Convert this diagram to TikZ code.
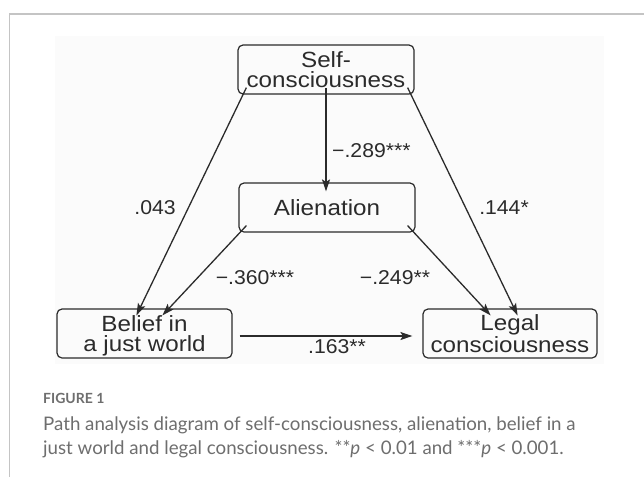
\documentclass[tikz,border=0pt]{standalone}
\usepackage{fontspec}
\setmainfont{Liberation Sans}
\newfontfamily\boxfont[FakeStretch=1.1]{Liberation Sans}
\newfontfamily\labfont[FakeStretch=1.06]{Liberation Sans}
\newfontfamily\capfont{Lato}
\usetikzlibrary{arrows.meta}
\definecolor{ink}{HTML}{2B2B2B}
\definecolor{frame}{HTML}{C4C4C4}
\definecolor{capgray}{HTML}{6E6E6E}
\begin{document}
\begin{tikzpicture}[x=1pt,y=-1pt,
  varbox/.style={draw=ink,line width=1.2pt,rounded corners=5pt,minimum width=176pt,minimum height=49pt,inner sep=0pt,align=center,text depth=0pt,font=\boxfont\fontsize{22}{20}\selectfont,text=ink},
  path/.style={draw=ink,line width=1.3pt,-{Stealth[length=12pt,width=8pt,inset=2.5pt]}},
  coef/.style={font=\labfont\fontsize{20}{22}\selectfont,text=ink,inner sep=0pt}]
\useasboundingbox (0,0) rectangle (644,477);
\fill[white] (0,0) rectangle (644,477);
\fill[black!1.5] (55,36) rectangle (604,364);
\draw[frame,line width=1.5pt] (644,14) -- (9.5,14) -- (9.5,477);
% nodes
\node[varbox] (self) at (326,69.5) {Self-\\consciousness};
\node[varbox] (alien) at (327,207.5) {Alienation};
\node[varbox,minimum width=175pt] (belief) at (144.5,333.5) {Belief in\\a just world};
\node[varbox,minimum width=174pt] (legal) at (510,333.5) {Legal\\consciousness};
% paths
\draw[path] ([xshift=9pt,yshift=7pt]self.south west) -- ([xshift=80pt,yshift=-7pt]belief.north west);
\draw[path] ([xshift=-7pt,yshift=7pt]self.south east) -- ([xshift=-80pt,yshift=-7pt]legal.north east);
\draw[path] ([yshift=7pt]self.south) -- ([xshift=-1pt,yshift=-9pt]alien.north);
\draw[path] ([xshift=8pt,yshift=7pt]alien.south west) -- ([xshift=106pt,yshift=-7pt]belief.north west);
\draw[path] ([xshift=-8pt,yshift=7pt]alien.south east) -- ([xshift=-107pt,yshift=-7pt]legal.north east);
\draw[path] ([xshift=7pt,yshift=-2.5pt]belief.east) -- ([xshift=-10pt,yshift=-2.5pt]legal.west);
% coefficients
\node[coef] (c1) at (155,208) {.043};
\node[coef,anchor=west] (c2) at (332,151) {−.289***};
\node[coef] (c3) at (504,208) {.144*};
\node[coef] (c4) at (255,278) {−.360***};
\node[coef] (c5) at (395,278) {−.249**};
\node[coef] (c6) at (337,347) {.163**};
% caption
\node[anchor=base west,inner sep=0pt,font=\capfont\bfseries\fontsize{14}{16}\selectfont,text=capgray] (fig) at (43,403) {FIGURE 1};
\node[anchor=base west,inner sep=0pt,font=\capfont\fontsize{18.7}{22}\selectfont,text=capgray] (cap1) at (43,430) {Path analysis diagram of self-consciousness, alienation, belief in a};
\node[anchor=base west,inner sep=0pt,font=\capfont\fontsize{18.7}{22}\selectfont,text=capgray] (cap2) at (43,454) {just world and legal consciousness. **\textit{p} < 0.01 and ***\textit{p} < 0.001.};
\end{tikzpicture}
\end{document}
